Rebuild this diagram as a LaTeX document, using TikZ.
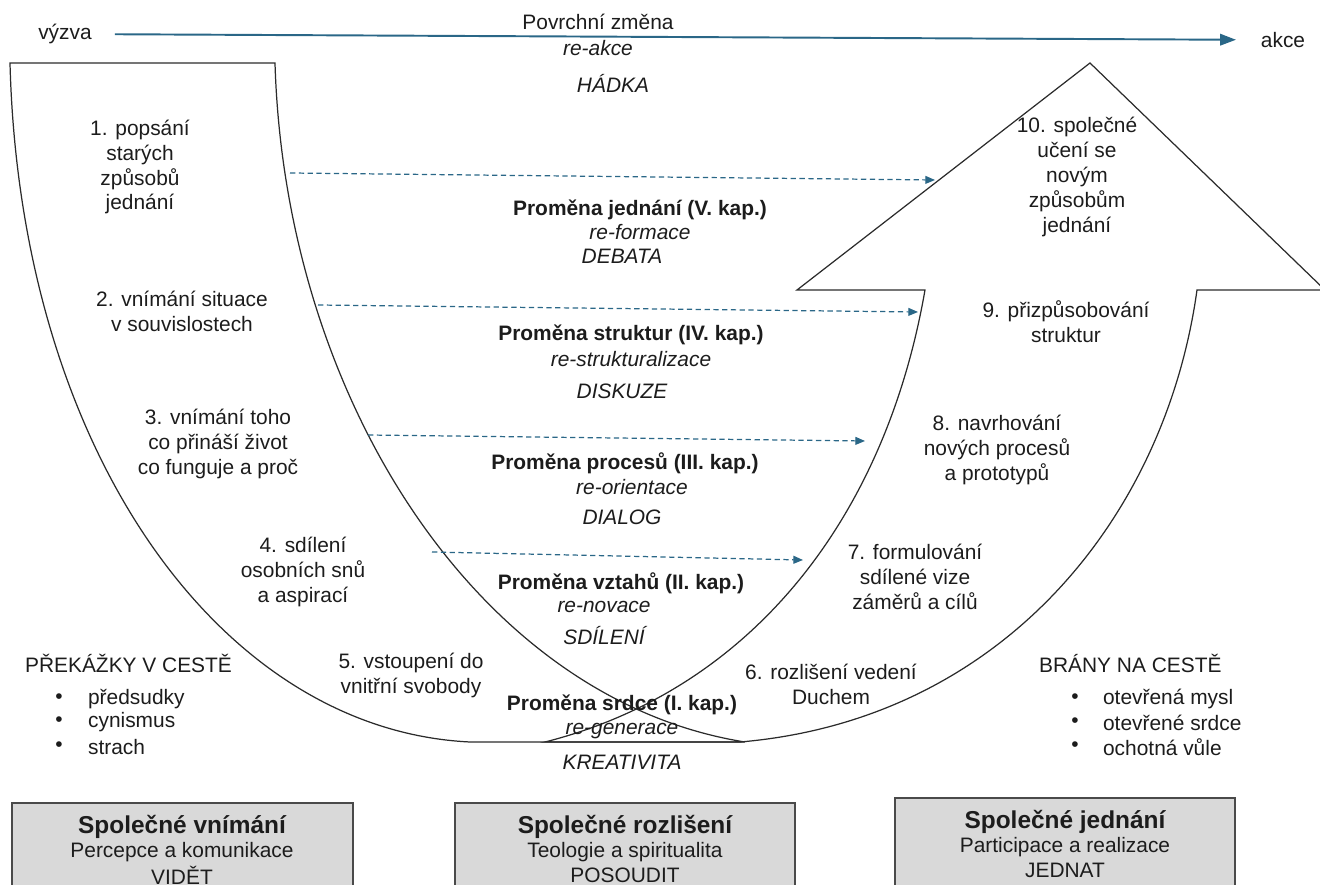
\documentclass[tikz,border=0pt]{standalone}
\usepackage{fontspec}
\setmainfont{Liberation Sans}
\usetikzlibrary{arrows.meta}

\definecolor{arrowblue}{HTML}{2A6787}
\definecolor{shapeline}{HTML}{2B2B2B}
\definecolor{boxfill}{HTML}{D9D9D9}
\definecolor{boxline}{HTML}{4A4A4A}
\definecolor{textdark}{HTML}{1C1C1C}

\tikzset{
  txt/.style={align=center, inner sep=1pt, text=textdark,
    font=\fontsize{11.9}{14.2}\selectfont},
  kaptitle/.style={txt, font=\fontsize{11.9}{14.2}\selectfont\bfseries},
  kapsub/.style={txt, font=\fontsize{11.9}{14.2}\selectfont\itshape},
  boxtitle/.style={txt, font=\fontsize{13.9}{16}\selectfont\bfseries},
  horn/.style={shapeline, line width=0.7pt},
  phasebox/.style={draw=boxline, fill=boxfill, line width=0.8pt},
  flowline/.style={arrowblue, line width=1.1pt, shorten <=12pt, shorten >=13pt,
    -{Triangle[length=9pt,width=6.5pt]}},
  stepline/.style={arrowblue, line width=0.7pt, dash pattern=on 3pt off 2pt,
    -{Triangle[length=5.5pt,width=4.5pt]}}
}

\begin{document}
\begin{tikzpicture}[x=0.02cm, y=-0.02cm]
  \clip (0,0) rectangle (1320,885);

  % Descending horn (left side of the U)
  \draw[horn] (10,63) -- (275,63)
    .. controls (285,400) and (480,700) .. (745,742)
    -- (470,742)
    .. controls (220,730) and (20,450) .. (10,63) -- cycle;

  % Ascending arrow (right side of the U)
  \draw[horn] (545,742) .. controls (750,690) and (885,520) .. (925,290)
    -- (797,290) -- (1090,63) -- (1325,290) -- (1197,290)
    .. controls (1165,520) and (1000,720) .. (740,742) -- cycle;

  % Surface change
  \node[txt] (vyzva) at (65,34) {výzva};
  \node[txt] (akce) at (1283,40) {akce};
  \draw[flowline] (vyzva) -- (akce);
  \node[txt] (povrch) at (598,22) {Povrchní změna};
  \node[kapsub] (reakce) at (598,48) {re-akce};
  \node[kapsub] (hadka) at (613,83) {HÁDKA};

  % Steps down
  \node[txt] (krok1) at (140,167) {1. popsání\\starých\\způsobů\\jednání};
  \node[txt] (krok2) at (182,311) {2. vnímání situace\\v souvislostech};
  \node[txt] (krok3) at (218,444) {3. vnímání toho\\co přináší život\\co funguje a proč};
  \node[txt] (krok4) at (303,572) {4. sdílení\\osobních snů\\a aspirací};
  \node[txt] (krok5) at (411,675) {5. vstoupení do\\vnitřní svobody};

  % Steps up
  \node[txt] (krok6) at (831,684) {6. rozlišení vedení\\Duchem};
  \node[txt] (krok7) at (915,577) {7. formulování\\sdílené vize\\záměrů a cílů};
  \node[txt] (krok8) at (997,450) {8. navrhování\\nových procesů\\a prototypů};
  \node[txt] (krok9) at (1066,322) {9. přizpůsobování\\struktur};
  \node[txt] (krok10) at (1077,177) {10. společné\\učení se\\novým\\způsobům\\jednání};

  % Levels of change
  \node[kaptitle] (kap5) at (640,210) {Proměna jednání (V. kap.)};
  \node[kapsub] (kap5a) at (640,232) {re-formace};
  \node[kapsub] (kap5b) at (622,256) {DEBATA};

  \node[kaptitle] (kap4) at (631,335) {Proměna struktur (IV. kap.)};
  \node[kapsub] (kap4a) at (631,359) {re-strukturalizace};
  \node[kapsub] (kap4b) at (622,391) {DISKUZE};

  \node[kaptitle] (kap3) at (625,463) {Proměna procesů (III. kap.)};
  \node[kapsub] (kap3a) at (632,487) {re-orientace};
  \node[kapsub] (kap3b) at (622,517) {DIALOG};

  \node[kaptitle] (kap2) at (621,583) {Proměna vztahů (II. kap.)};
  \node[kapsub] (kap2a) at (604,607) {re-novace};
  \node[kapsub] (kap2b) at (604,636) {SDÍLENÍ};

  \node[kaptitle] (kap1) at (622,705) {Proměna srdce (I. kap.)};
  \node[kapsub] (kap1a) at (622,731) {re-generace};
  \node[kapsub] (kap1b) at (622,762) {KREATIVITA};

  % Dashed links across the U
  \coordinate (s1) at (290,173);
  \coordinate (e1) at (935,180);
  \coordinate (s2) at (318,305);
  \coordinate (e2) at (918,312);
  \coordinate (s3) at (368,435);
  \coordinate (e3) at (865,441);
  \coordinate (s4) at (432,552);
  \coordinate (e4) at (803,560);
  \draw[stepline] (s1) -- (e1);
  \draw[stepline] (s2) -- (e2);
  \draw[stepline] (s3) -- (e3);
  \draw[stepline] (s4) -- (e4);

  % Obstacles
  \node[txt, anchor=west] (prekazky) at (23,663) {PŘEKÁŽKY V CESTĚ};
  \node[txt] (bp1) at (59,699) {\textbullet};
  \node[txt, anchor=west] (predsudky) at (86,699) {předsudky};
  \node[txt] (bp2) at (59,722) {\textbullet};
  \node[txt, anchor=west] (cynismus) at (86,722) {cynismus};
  \node[txt] (bp3) at (59,747) {\textbullet};
  \node[txt, anchor=west] (strach) at (86,747) {strach};

  % Gates
  \node[txt, anchor=west] (brany) at (1037,663) {BRÁNY NA CESTĚ};
  \node[txt] (bg1) at (1075,699) {\textbullet};
  \node[txt, anchor=west] (mysl) at (1101,699) {otevřená mysl};
  \node[txt] (bg2) at (1075,723) {\textbullet};
  \node[txt, anchor=west] (srdce) at (1101,723) {otevřené srdce};
  \node[txt] (bg3) at (1075,747) {\textbullet};
  \node[txt, anchor=west] (vule) at (1101,747) {ochotná vůle};

  % Phase boxes
  \draw[phasebox] (12,803) rectangle (353,895);
  \node[boxtitle] (vnimani) at (182,827) {Společné vnímání};
  \node[txt] (vnimani1) at (182,852) {Percepce a komunikace};
  \node[txt] (vnimani2) at (182,875) {VIDĚT};

  \draw[phasebox] (455,803) rectangle (795,895);
  \node[boxtitle] (rozliseni) at (625,827) {Společné rozlišení};
  \node[txt] (rozliseni1) at (625,852) {Teologie a spiritualita};
  \node[txt] (rozliseni2) at (625,875) {POSOUDIT};

  \draw[phasebox] (895,798) rectangle (1235,895);
  \node[boxtitle] (jednani) at (1065,822) {Společné jednání};
  \node[txt] (jednani1) at (1065,847) {Participace a realizace};
  \node[txt] (jednani2) at (1065,870) {JEDNAT};
\end{tikzpicture}
\end{document}
